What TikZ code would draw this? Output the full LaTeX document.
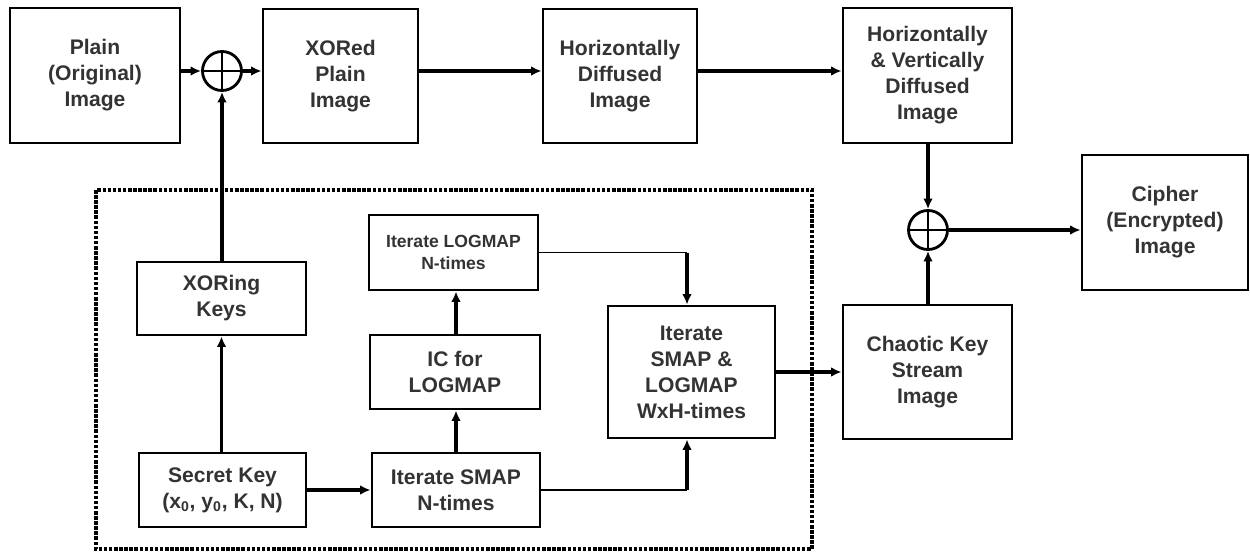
\documentclass[tikz,border=0pt]{standalone}
\usepackage{fontspec}
\setmainfont{Liberation Sans}
\usetikzlibrary{arrows.meta}
\begin{document}
\begin{tikzpicture}[x=0.02cm,y=-0.02cm,
  box/.style={draw=black, line width=1.6pt, align=center, inner sep=1pt,
    font=\fontsize{12}{14.8}\selectfont\bfseries, text=black!80},
  smallbox/.style={box, font=\fontsize{10}{12.5}\selectfont\bfseries},
  xorc/.style={draw=black, line width=1.6pt, circle, minimum size=0.78cm, inner sep=0pt,
    path picture={\draw[line width=1.6pt] (path picture bounding box.north) -- (path picture bounding box.south)
      (path picture bounding box.west) -- (path picture bounding box.east);}},
  arr/.style={line width=2pt, -{Latex[length=6pt,width=5.5pt]}},
  thinl/.style={line width=1.1pt},
  dotbox/.style={line width=2.4pt, dash pattern=on 2pt off 0.9pt}
]
\useasboundingbox (0,0) rectangle (1250,554);
% dashed frame
\draw[dotbox] (96,190) rectangle (812,549);
% top row
\node[box, minimum width=3.4cm, minimum height=2.7cm] (plain) at (95,75.5) {Plain\\(Original)\\Image};
\node[xorc] (c1) at (222,71) {};
\node[box, minimum width=3.1cm, minimum height=2.68cm] (xored) at (340.5,76) {XORed\\Plain\\Image};
\node[box, minimum width=3.08cm, minimum height=2.68cm] (hd) at (620,76) {Horizontally\\Diffused\\Image};
\node[box, minimum width=3.38cm, minimum height=2.7cm] (hv) at (927.5,75.5) {Horizontally\\\& Vertically\\Diffused\\Image};
\node[xorc] (c2) at (928,230) {};
\node[box, minimum width=3.32cm, minimum height=2.7cm] (cipher) at (1165,222.5) {Cipher\\(Encrypted)\\Image};
\node[box, minimum width=3.38cm, minimum height=2.68cm] (chaotic) at (927.5,372) {Chaotic Key\\Stream\\Image};
% inner boxes
\node[box, minimum width=3.38cm, minimum height=1.46cm] (xork) at (221.5,298.5) {XORing\\Keys};
\node[box, minimum width=3.34cm, minimum height=1.48cm] (secret) at (222.5,490) {Secret Key\\(x\textsubscript{0}, y\textsubscript{0}, K, N)};
\node[smallbox, minimum width=3.38cm, minimum height=1.5cm] (logn) at (453.5,252.5) {Iterate LOGMAP\\N-times};
\node[box, minimum width=3.4cm, minimum height=1.48cm] (ic) at (455,372) {IC for\\LOGMAP};
\node[box, minimum width=3.36cm, minimum height=1.48cm] (smapn) at (456,490) {Iterate SMAP\\N-times};
\node[box, minimum width=3.34cm, minimum height=2.64cm] (both) at (691.5,372) {Iterate\\SMAP \&\\LOGMAP\\WxH-times};
% connectors
\draw[arr] (plain.east |- c1) -- (c1.west);
\draw[arr] (c1.east) -- (xored.west |- c1);
\draw[arr] (xork.north -| c1) -- (c1.south);
\draw[arr] (secret.north -| xork) -- (xork.south);
\draw[arr] (xored.east |- c1) -- (hd.west |- c1);
\draw[arr] (hd.east |- c1) -- (hv.west |- c1);
\draw[arr] (hv.south -| c2) -- (c2.north);
\draw[arr] (chaotic.north -| c2) -- (c2.south);
\draw[arr] (c2.east) -- (cipher.west |- c2);
\draw[arr] (secret.east) -- (smapn.west);
\draw[arr] (smapn.north) -- (smapn.north |- ic.south);
\draw[arr] (smapn.north |- ic.north) -- (smapn.north |- logn.south);
\coordinate (k1) at ([xshift=-4.5*0.02cm]both.north |- logn.east);
\coordinate (k2) at ([xshift=-4.5*0.02cm]both.south |- smapn.east);
\draw[thinl] (logn.east) -- (k1);
\draw[arr] (k1) -- (k1 |- both.north);
\draw[thinl] (smapn.east) -- (k2);
\draw[arr] (k2) -- (k2 |- both.south);
\draw[arr, line width=2.4pt] (both.east) -- (chaotic.west |- both.east);
\end{tikzpicture}
\end{document}
